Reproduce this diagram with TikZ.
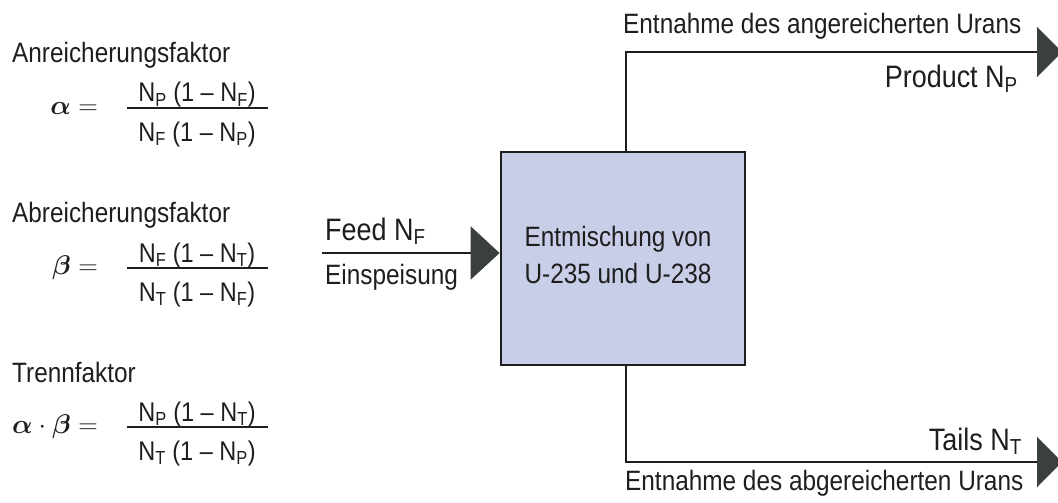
\RequirePackage{fix-cm}
\documentclass[tikz,border=0pt]{standalone}
\usepackage{bm}
\usepackage[no-math]{fontspec}
\setmainfont{Liberation Sans}[FakeStretch=0.87]
\usepackage{xcolor}
\usetikzlibrary{arrows.meta}
\usetikzlibrary{positioning}

\definecolor{boxblue}{RGB}{201,206,232}
\definecolor{inkgray}{RGB}{30,30,30}
\definecolor{tipgray}{RGB}{58,64,61}

\newcommand{\Nsub}[1]{N\textsubscript{#1}}

\begin{document}
\begin{tikzpicture}[x=1pt,y=-1pt,
	txt/.style={inner sep=0pt,font=\fontsize{28}{33}\selectfont,text=inkgray},
	bigtxt/.style={inner sep=0pt,font=\fontsize{31}{36}\selectfont,text=inkgray},
	frm/.style={inner sep=0pt,font=\fontsize{27}{30}\selectfont,text=inkgray},
	fracbar/.style={line width=1.6pt,draw=inkgray},
	flow/.style={line width=2.5pt,draw=inkgray},
	bigtip/.style={-{Triangle[length=#1,width=50pt,color=tipgray]}}]
	
	\useasboundingbox (0,0) rectangle (1058,503);
	
	% left: the three factors
	\node [txt,anchor=base west] (anrtitle) at (12,63) {Anreicherungsfaktor};
	
	\node [frm,anchor=base east] (alphaeq) at (98,114.5) {$\bm{\alpha} =$};
	
	\node [frm,anchor=base] (alphanum) at (197,102) {\Nsub{P} (1 -- \Nsub{F})};
	
	\node [frm,anchor=base] (alphaden) at (197,141) {\Nsub{F} (1 -- \Nsub{P})};
	
	\draw [fracbar] (127,108) -- (268,108);
	
	\node [txt,anchor=base west] (abrtitle) at (12,222) {Abreicherungsfaktor};
	
	\node [frm,anchor=base east] (betaeq) at (98,274.5) {$\bm{\beta} =$};
	
	\node [frm,anchor=base] (betanum) at (197,262) {\Nsub{F} (1 -- \Nsub{T})};
	
	\node [frm,anchor=base] (betaden) at (197,301) {\Nsub{T} (1 -- \Nsub{F})};
	
	\draw [fracbar] (127,268) -- (268,268);
	
	\node [txt,anchor=base west] (trtitle) at (12,382) {Trennfaktor};
	
	\node [frm,anchor=base east] (trenneq) at (98,433.5) {$\bm{\alpha}\cdot\bm{\beta} =$};
	
	\node [frm,anchor=base] (trennnum) at (197,421) {\Nsub{P} (1 -- \Nsub{T})};
	
	\node [frm,anchor=base] (trennden) at (197,460) {\Nsub{T} (1 -- \Nsub{P})};
	
	\draw [fracbar] (127,427) -- (268,427);
	
	% right: the separation stage
	\node [draw=inkgray,line width=2.8pt,fill=boxblue,minimum width=244pt,minimum height=213pt] (stage) at (623,258.5) {};
	
	\node [txt,anchor=base] (stage1) at (618,246) {Entmischung von};
	
	\node [txt,anchor=base] (stage2) at (618,283) {U-235 und U-238};
	
	\coordinate (feedin) at (322,253);
	
	\draw [flow,-{Triangle[length=29pt,width=53pt,color=tipgray]}] (feedin) -- (stage.west |- feedin);
	
	\node [bigtxt,anchor=base west] (feedlbl) at (325,240) {Feed \Nsub{F}};
	
	\node [txt,anchor=base west] (einlbl) at (325,284) {Einspeisung};
	
	\coordinate (prodturn) at (626,52);
	\coordinate (prodout) at (1062,52);
	
	\draw [flow,bigtip=25pt] (stage.north -| prodturn) -- (prodturn) -- (prodout);
	
	\node [txt,anchor=base west] (prodtop) at (623,34) {Entnahme des angereicherten Urans};
	
	\node [bigtxt,anchor=base east] (prodlbl) at (1018,88) {Product \Nsub{P}};
	
	\coordinate (tailturn) at (626,462);
	\coordinate (tailout) at (1062,462);
	
	\draw [flow,bigtip=25pt] (stage.south -| tailturn) -- (tailturn) -- (tailout);
	
	\node [bigtxt,anchor=base east] (taillbl) at (1022,450) {Tails \Nsub{T}};
	
	\node [txt,anchor=base west] (tailbot) at (625,490) {Entnahme des abgereicherten Urans};
	
\end{tikzpicture}
\end{document}
